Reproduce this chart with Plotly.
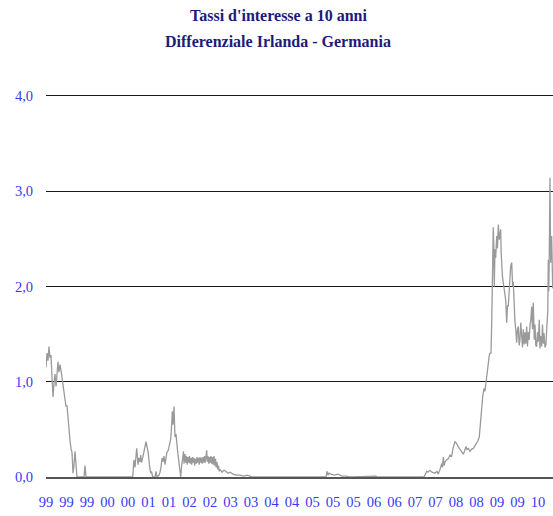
import plotly.graph_objects as go

# spread Irlanda - Germania, 10y (decimal years)
x_1999 = [1999.010, 1999.033, 1999.055, 1999.078, 1999.101, 1999.123, 1999.146, 1999.169,
          1999.191, 1999.214, 1999.237, 1999.259, 1999.282, 1999.304, 1999.327, 1999.350,
          1999.372, 1999.395, 1999.418, 1999.440, 1999.463, 1999.486, 1999.508, 1999.531,
          1999.554, 1999.576, 1999.599, 1999.622, 1999.644, 1999.667, 1999.690, 1999.712,
          1999.871, 1999.893, 1999.916, 2000.974]
y_1999 = [1.15, 1.30, 1.22, 1.37, 1.25, 1.28, 1.05, 0.84,
          0.98, 1.08, 0.95, 1.12, 1.21, 1.10, 1.18, 1.12,
          1.05, 0.98, 0.90, 0.82, 0.74, 0.75, 0.60, 0.46,
          0.38, 0.30, 0.26, 0.04, 0.12, 0.27, 0.10, 0.00,
          0.00, 0.12, 0.00, 0.00]

x_2001 = [2000.992, 2001.003, 2001.026, 2001.049, 2001.064, 2001.083, 2001.094, 2001.116,
          2001.139, 2001.155, 2001.173, 2001.200, 2001.218, 2001.241, 2001.275, 2001.298,
          2001.327, 2001.354, 2001.382, 2001.400, 2001.427, 2001.479, 2001.502, 2001.524,
          2001.570, 2001.592, 2001.615, 2001.637, 2001.660, 2001.683, 2001.705, 2001.728,
          2001.751, 2001.780, 2001.807, 2001.835, 2001.853, 2001.871, 2001.887, 2001.909,
          2001.932, 2001.955, 2001.984, 2002.007, 2002.029, 2002.061, 2002.079, 2002.106]
y_2001 = [0.12, 0.18, 0.10, 0.24, 0.30, 0.20, 0.13, 0.20,
          0.16, 0.23, 0.15, 0.20, 0.24, 0.28, 0.37, 0.32,
          0.25, 0.12, 0.04, 0.06, 0.00, 0.00, 0.06, 0.00,
          0.02, 0.05, 0.10, 0.20, 0.16, 0.22, 0.13, 0.20,
          0.26, 0.28, 0.34, 0.40, 0.52, 0.69, 0.55, 0.74,
          0.42, 0.45, 0.30, 0.22, 0.11, 0.00, 0.10, 0.25]

x_2002 = [2002.124, 2002.136, 2002.158, 2002.174, 2002.192, 2002.208, 2002.226, 2002.242,
          2002.260, 2002.276, 2002.294, 2002.310, 2002.328, 2002.344, 2002.362, 2002.378,
          2002.396, 2002.412, 2002.430, 2002.446, 2002.464, 2002.480, 2002.498, 2002.514,
          2002.532, 2002.548, 2002.566, 2002.582, 2002.600, 2002.616, 2002.634, 2002.650,
          2002.663, 2002.679, 2002.695, 2002.713, 2002.729, 2002.747, 2002.763, 2002.781,
          2002.797, 2002.815, 2002.831, 2002.849, 2002.865, 2002.883, 2002.899, 2002.917,
          2002.935, 2002.951, 2002.996, 2003.042, 2003.087, 2003.132, 2003.178, 2003.246,
          2003.314, 2003.404, 2003.495, 2003.563, 2003.631, 2003.676]
y_2002 = [0.27, 0.14, 0.24, 0.15, 0.22, 0.13, 0.21, 0.15,
          0.22, 0.14, 0.20, 0.13, 0.21, 0.15, 0.20, 0.12,
          0.19, 0.14, 0.21, 0.15, 0.20, 0.13, 0.21, 0.15,
          0.20, 0.14, 0.21, 0.15, 0.22, 0.15, 0.20, 0.28,
          0.16, 0.22, 0.14, 0.21, 0.15, 0.22, 0.14, 0.21,
          0.13, 0.22, 0.12, 0.19, 0.10, 0.16, 0.08, 0.12,
          0.06, 0.08, 0.05, 0.07, 0.06, 0.04, 0.05, 0.03,
          0.02, 0.02, 0.01, 0.02, 0.01, 0.00]

x_2005 = [2005.352, 2005.375, 2005.397, 2005.420, 2005.465, 2005.533, 2005.624, 2005.714,
          2005.805, 2005.896, 2006.485, 2006.507, 2007.572]
y_2005 = [0.00, 0.06, 0.02, 0.04, 0.03, 0.02, 0.03, 0.01,
          0.01, 0.00, 0.01, 0.00, 0.00]

x_2007 = [2007.594, 2007.633, 2007.662, 2007.708, 2007.753, 2007.821, 2007.866, 2007.896,
          2007.934, 2007.973, 2007.991, 2008.009, 2008.029, 2008.047, 2008.086, 2008.122,
          2008.161, 2008.199, 2008.229, 2008.251, 2008.274, 2008.297, 2008.319, 2008.349,
          2008.371, 2008.403, 2008.432, 2008.462, 2008.489, 2008.523, 2008.546, 2008.575,
          2008.614, 2008.648, 2008.688, 2008.727, 2008.765, 2008.795, 2008.824, 2008.840,
          2008.856, 2008.879, 2008.901, 2008.915, 2008.931, 2008.953, 2008.976, 2008.999,
          2009.028, 2009.051, 2009.067, 2009.089]
y_2007 = [0.03, 0.06, 0.05, 0.07, 0.05, 0.04, 0.06, 0.03,
          0.08, 0.14, 0.10, 0.21, 0.12, 0.16, 0.18, 0.19,
          0.23, 0.22, 0.30, 0.35, 0.37, 0.36, 0.34, 0.31,
          0.30, 0.28, 0.26, 0.24, 0.27, 0.32, 0.29, 0.30,
          0.27, 0.29, 0.30, 0.33, 0.36, 0.38, 0.42, 0.53,
          0.60, 0.70, 0.84, 0.88, 0.93, 0.90, 1.00, 1.08,
          1.25, 1.28, 1.30, 1.30]

x_2009 = [2009.105, 2009.119, 2009.128, 2009.141, 2009.153, 2009.164, 2009.180, 2009.196,
          2009.219, 2009.237, 2009.255, 2009.277, 2009.293, 2009.309, 2009.320, 2009.332,
          2009.350, 2009.368, 2009.388, 2009.406, 2009.424, 2009.445, 2009.463, 2009.481,
          2009.504, 2009.520, 2009.535, 2009.558, 2009.580, 2009.594, 2009.610, 2009.633,
          2009.651, 2009.671, 2009.690, 2009.708, 2009.728, 2009.746, 2009.764, 2009.785,
          2009.803, 2009.821, 2009.841, 2009.859, 2009.878, 2009.898, 2009.916, 2009.934,
          2009.955, 2009.973, 2009.991]
y_2009 = [1.60, 1.90, 2.30, 2.62, 2.40, 2.00, 2.39, 2.30,
          2.53, 2.40, 2.65, 2.49, 2.55, 2.60, 2.35, 2.21,
          2.10, 2.04, 1.96, 1.93, 1.85, 1.62, 1.80, 1.79,
          1.97, 2.10, 2.21, 2.25, 2.00, 2.05, 1.83, 1.62,
          1.55, 1.41, 1.55, 1.58, 1.38, 1.44, 1.62, 1.50,
          1.36, 1.55, 1.39, 1.52, 1.40, 1.58, 1.37, 1.52,
          1.44, 1.60, 1.65]

x_2010 = [2010.011, 2010.029, 2010.047, 2010.070, 2010.086, 2010.104, 2010.124, 2010.142,
          2010.161, 2010.183, 2010.199, 2010.217, 2010.238, 2010.256, 2010.274, 2010.290,
          2010.312, 2010.335, 2010.351, 2010.364, 2010.376, 2010.387, 2010.398, 2010.410,
          2010.419, 2010.426, 2010.435, 2010.441, 2010.453, 2010.464, 2010.475, 2010.487,
          2010.494]
y_2010 = [1.79, 1.55, 1.83, 1.44, 1.60, 1.38, 1.37, 1.52,
          1.42, 1.65, 1.35, 1.48, 1.37, 1.60, 1.40, 1.51,
          1.36, 1.39, 1.55, 1.69, 1.75, 2.28, 1.95, 2.35,
          2.60, 3.14, 2.60, 2.25, 2.40, 2.53, 2.20, 1.98,
          2.10]

tick_labels = ["99", "99", "99", "00", "00", "01", "01", "02", "02", "03", "03", "04", "04",
               "05", "05", "05", "06", "06", "07", "07", "08", "08", "09", "09", "10"]
y_ticks = [0, 1, 2, 3, 4]
y_tick_labels = ["0,0", "1,0", "2,0", "3,0", "4,0"]

x = x_1999 + x_2001 + x_2002 + x_2005 + x_2007 + x_2009 + x_2010
y = y_1999 + y_2001 + y_2002 + y_2005 + y_2007 + y_2009 + y_2010

x0, x1 = 1999.01, 2010.494
step = 0.4643
tick_vals = [x0 + i * step for i in range(len(tick_labels))]

fig = go.Figure()
fig.add_trace(go.Scatter(x=x, y=y, mode="lines", cliponaxis=False,
                         line=dict(color="#9a9a9a", width=1.3), showlegend=False))

title_font = dict(family="Liberation Serif", size=16, color="#1c1c78")
fig.add_annotation(text="<b>Tassi d'interesse a 10 anni</b>", xref="paper", yref="paper",
                   x=0.4576, y=1.206, yanchor="middle", showarrow=False, font=title_font)
fig.add_annotation(text="<b>Differenziale Irlanda - Germania</b>", xref="paper", yref="paper",
                   x=0.4576, y=1.136, yanchor="middle", showarrow=False, font=title_font)

tick_font = dict(family="Liberation Serif", size=14.5, color="#3a3af5")
fig.update_xaxes(range=[x0, x1], tickvals=tick_vals, ticktext=tick_labels, automargin=False,
                 showgrid=False, zeroline=False, showline=True, linecolor="#555555",
                 linewidth=1.5, ticks="", tickfont=tick_font, ticklabelstandoff=11)
fig.update_yaxes(range=[0, 4.02], tickvals=y_ticks, ticktext=y_tick_labels, automargin=False,
                 showgrid=True, gridcolor="#1a1a1a", gridwidth=1.3, zeroline=False,
                 ticks="", tickfont=tick_font, ticklabelstandoff=12)

fig.update_layout(width=553, height=516, margin=dict(l=46, r=0, t=94, b=39),
                  plot_bgcolor="white", paper_bgcolor="white")
# page body has an 8px default margin, drop it so the figure sits at 0,0
fig.write_html("out.html", config={"responsive": False, "displayModeBar": False},
               post_script="document.body.style.margin='0';")
